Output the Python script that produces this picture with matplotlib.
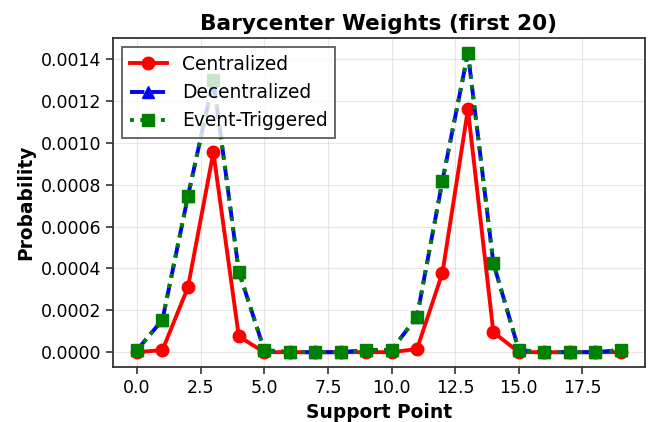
import numpy as np
import matplotlib.pyplot as plt

support = np.arange(20)
centralized = [0.0, 0.00001, 0.00031, 0.000955, 0.000075, 0.0, 0.0, 0.0, 0.0, 0.0,
               0.0, 0.000015, 0.00038, 0.00116, 0.000095, 0.0, 0.0, 0.0, 0.0, 0.0]
decentralized = [0.00001, 0.000155, 0.000745, 0.0013, 0.000385, 0.00001, 0.0, 0.0, 0.0, 0.00001,
                 0.00001, 0.00017, 0.00082, 0.00143, 0.000425, 0.00001, 0.0, 0.0, 0.0, 0.00001]
event_triggered = list(decentralized)

fig, ax = plt.subplots(figsize=(6.56, 4.22), dpi=100)
fig.subplots_adjust(left=0.172, right=0.983, top=0.910, bottom=0.130)

ax.plot(support, centralized, 'r-o', linewidth=2.8, markersize=9, label='Centralized')
ax.plot(support, decentralized, 'b--^', linewidth=2.8, markersize=9, label='Decentralized')
ax.plot(support, event_triggered, 'g:s', linewidth=2.8, markersize=9, label='Event-Triggered')

ax.set_title('Barycenter Weights (first 20)', fontsize=15.6, fontweight='bold')
ax.set_xlabel('Support Point', fontsize=13.4, fontweight='bold')
ax.set_ylabel('Probability', fontsize=13.4, fontweight='bold')
ax.tick_params(labelsize=12.5, length=5, width=1.2, color='#333333')
for s in ax.spines.values():
    s.set_color('#333333')
    s.set_linewidth(1.3)

leg = ax.legend(fontsize=13.4, loc='upper left', fancybox=False, edgecolor='#333333')
leg.get_frame().set_linewidth(1.3)
ax.grid(True, alpha=0.3)

plt.savefig('out.png')
